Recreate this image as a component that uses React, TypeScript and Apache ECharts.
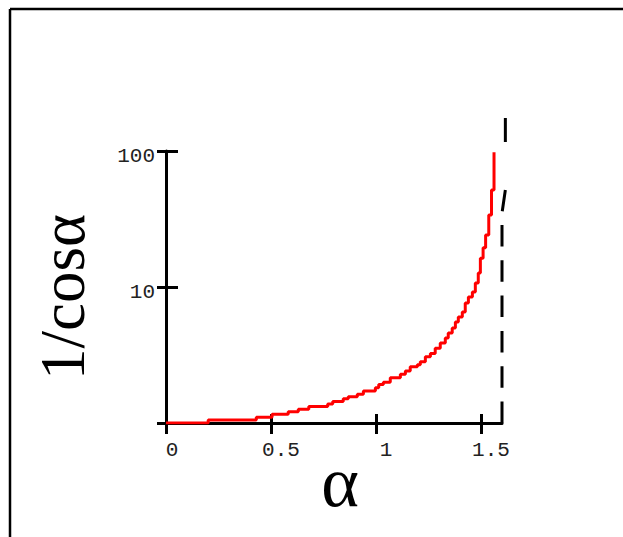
import React, { useEffect, useRef } from "react";
import * as echarts from "echarts";

// Staircase samples of 1/cos(alpha): each entry starts a horizontal run
const alphaSteps = [
  0, 0.201, 0.43, 0.505, 0.582, 0.63, 0.68, 0.77, 0.794, 0.844, 0.868, 0.911,
  0.94, 0.997, 1.013, 1.035, 1.068, 1.116, 1.14, 1.163, 1.197, 1.211, 1.235,
  1.259, 1.282, 1.306, 1.33, 1.344, 1.363, 1.378, 1.392, 1.411, 1.425, 1.44,
  1.459, 1.473, 1.487, 1.497, 1.51, 1.522, 1.537, 1.55, 1.562,
];
const secValues = [
  1.0, 1.05, 1.1, 1.16, 1.21, 1.26, 1.32, 1.38, 1.44, 1.51, 1.56, 1.63, 1.72,
  1.82, 1.92, 1.99, 2.15, 2.28, 2.41, 2.59, 2.68, 2.82, 3.07, 3.25, 3.54, 3.87,
  4.22, 4.59, 5.0, 5.53, 6.02, 6.55, 7.63, 8.44, 9.19, 10.7, 12.7, 16.3, 19.4,
  24.1, 33.8, 51.7, 98,
];

// Asymptote guide near alpha = pi/2 (dashed)
const asymptoteAlpha = [1.6, 1.6, 1.616, 1.616];
const asymptoteValues = [1, 35, 51.7, 174.8];
// dash pattern along the guide: regular dashes, one skipped, then the top dash
const asymptoteDash = [
  21.5, 13.8, 21.5, 13.8, 21.5, 13.8, 21.5, 13.8, 21.5, 13.8, 21.5, 13.8,
  21.4, 48, 24, 200,
];

const xTicks = [0, 0.5, 1, 1.5];
const yTicks = [1, 10, 100];
const yLabels = ["", "10", "100"];

const X_NAME = "α";
const Y_NAME = "1/cosα";

export default function App() {
  const ref = useRef<HTMLDivElement>(null);

  useEffect(() => {
    if (!ref.current) return;
    const chart = echarts.init(ref.current, null, { renderer: "svg" });
    const monoFont = "Liberation Mono";
    const serifFont = "Liberation Serif";
    const black = "#000";
    const labelColor = "#222";

    const frameAndNames: any[] = [
      {
        type: "line",
        shape: { x1: 10, y1: 9, x2: 623, y2: 9 },
        style: { stroke: black, lineWidth: 2.5 },
      },
      {
        type: "line",
        shape: { x1: 10, y1: 9, x2: 10, y2: 537 },
        style: { stroke: black, lineWidth: 2.5 },
      },
      {
        type: "text",
        x: 63,
        y: 297,
        rotation: Math.PI / 2,
        style: {
          text: Y_NAME,
          fontFamily: serifFont,
          fontSize: 63,
          fill: black,
          align: "center",
          verticalAlign: "middle",
        },
      },
      {
        type: "text",
        x: 340,
        y: 482,
        style: {
          text: X_NAME,
          fontFamily: serifFont,
          fontSize: 72,
          fill: black,
          align: "center",
          verticalAlign: "middle",
        },
      },
    ];

    const option: echarts.EChartsOption = {
      animation: false,
      backgroundColor: "#fff",
      grid: { left: 166, right: 121, top: 151, bottom: 114 },
      xAxis: [
        {
          type: "value",
          min: 0,
          max: 1.6,
          interval: 0.5,
          position: "bottom",
          splitLine: { show: false },
          axisLine: { onZero: false, lineStyle: { color: black, width: 3 } },
          axisTick: {
            customValues: xTicks,
            length: 11,
            lineStyle: { color: black, width: 3 },
          },
          axisLabel: {
            customValues: xTicks,
            margin: 17,
            color: labelColor,
            fontFamily: monoFont,
            fontSize: 21,
            formatter: (v: number) =>
              v === 0 ? "{z|0}" : "{n|" + String(v) + "}",
            rich: {
              z: { fontFamily: monoFont, fontSize: 21, color: labelColor, padding: [0, 0, 0, 12] },
              n: { fontFamily: monoFont, fontSize: 21, color: labelColor, padding: [0, 0, 0, 20] },
            },
          },
        },
        {
          type: "value",
          min: 0,
          max: 1.6,
          interval: 0.5,
          position: "bottom",
          splitLine: { show: false },
          axisLine: { show: false, onZero: false },
          axisTick: {
            customValues: xTicks,
            inside: true,
            length: 9,
            lineStyle: { color: black, width: 3 },
          },
          axisLabel: { show: false },
        },
      ],
      yAxis: [
        {
          type: "log",
          logBase: 10,
          min: 1,
          max: 100,
          position: "left",
          splitLine: { show: false },
          axisLine: { onZero: false, lineStyle: { color: black, width: 3 } },
          axisTick: {
            customValues: yTicks,
            length: 9,
            lineStyle: { color: black, width: 3 },
          },
          axisLabel: {
            customValues: yTicks,
            margin: 11,
            color: labelColor,
            fontFamily: monoFont,
            fontSize: 21,
            formatter: (v: number) => {
              const s = yLabels[yTicks.indexOf(Math.round(v))] ?? "";
              return s ? "{y|" + s + "}" : "";
            },
            rich: {
              y: { fontFamily: monoFont, fontSize: 21, color: labelColor, padding: [11, 0, 0, 0] },
            },
          },
        },
        {
          type: "log",
          logBase: 10,
          min: 1,
          max: 100,
          position: "left",
          splitLine: { show: false },
          axisLine: { show: false, onZero: false },
          axisTick: {
            customValues: yTicks,
            inside: true,
            length: 12,
            lineStyle: { color: black, width: 3 },
          },
          axisLabel: { show: false },
        },
      ],
      series: [
        {
          type: "line",
          xAxisIndex: 0,
          yAxisIndex: 0,
          step: "end",
          symbol: "none",
          data: alphaSteps.map((a, i) => [a, secValues[i]]),
          lineStyle: { color: "#ff0000", width: 3 },
          z: 5,
        },
      ],
      graphic: frameAndNames,
    };

    chart.setOption(option);

    // The guide runs past the plot area, so it is placed through the axes' own scales
    const guidePoints = asymptoteAlpha.map((a, i) =>
      chart.convertToPixel({ gridIndex: 0 }, [a, asymptoteValues[i]]) as number[]
    );
    chart.setOption({
      graphic: [
        ...frameAndNames,
        {
          type: "polyline",
          shape: { points: guidePoints },
          style: {
            stroke: black,
            lineWidth: 3,
            lineDash: asymptoteDash,
            lineCap: "butt",
            fill: null,
          },
        },
      ],
    });

    return () => chart.dispose();
  }, []);

  return (
    <>
      <div
        ref={ref}
        style={{ position: "fixed", left: 0, top: 0, width: 623, height: 537 }}
      />
      {/* blank right margin strip of the page frame */}
      <div
        style={{
          position: "fixed",
          left: 611,
          top: 11,
          width: 12,
          height: 526,
          background: "#fff",
          zIndex: 10,
        }}
      />
    </>
  );
}
